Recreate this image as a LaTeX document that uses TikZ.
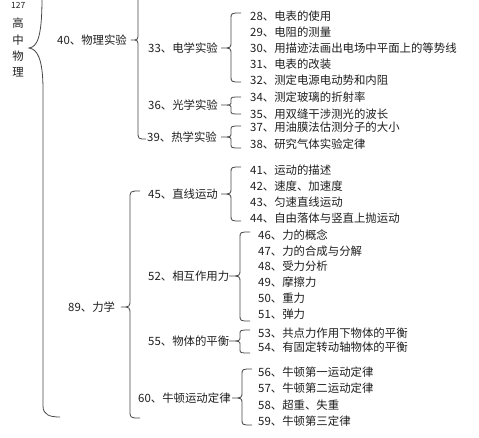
\documentclass[tikz,border=0pt]{standalone}
\usepackage{fontspec}
\setmainfont{Noto Sans CJK SC}
\newcommand\brc[8]{% xline, ytop, ycusp, ybot, xcusp, xtopend, xbotend, r
\draw[brace] (#6,#2) .. controls (#1,#2) .. (#1,{#2+#8}) -- (#1,{#3-#8}) .. controls (#1,#3) .. (#5,#3) .. controls (#1,#3) .. (#1,{#3+#8}) -- (#1,{#4-#8}) .. controls (#1,#4) .. (#7,#4);}
\begin{document}
\begin{tikzpicture}[x=1pt,y=-1pt,
  brace/.style={draw=black!72,line width=0.8pt},
  lbl/.style={anchor=west,inner sep=0pt,font=\fontsize{11.4}{12}\selectfont,text=black!88},
  vlbl/.style={inner sep=0pt,font=\fontsize{11.4}{12}\selectfont,text=black!88}]
\useasboundingbox (0,0) rectangle (479,437);
\fill[white] (0,0) rectangle (479,437);
% root
\node[lbl,font=\fontsize{8.5}{10}\selectfont\itshape] (n127) at (11,5) {127};
\node[vlbl] (g1) at (18,23) {高};
\node[vlbl] (g2) at (18,40) {中};
\node[vlbl] (g3) at (18,56) {物};
\node[vlbl] (g4) at (18,72) {理};
\draw[brace] (42,-2) .. controls (42,38) and (37,47) .. (29,48) .. controls (37,49) and (43,58) .. (43,90) -- (43,406) .. controls (43,415) and (50,417) .. (60,417);
% experiments
\node[lbl] (e40) at (57,40) {40、物理实验};
\draw[brace] (138,-5) -- (138,33) .. controls (138,40) .. (131,40) .. controls (138,40) .. (138,47) -- (138,131) .. controls (138,139) .. (146,139);
\node[lbl] (e33) at (148,48) {33、电学实验};
\node[lbl] (e36) at (148,105) {36、光学实验};
\node[lbl] (e39) at (147,137) {39、热学实验};
\brc{231}{13}{48}{82}{221}{241}{241}{6}
\brc{231}{97}{105}{114}{221}{241}{241}{3}
\brc{231}{126}{137}{148}{221}{241}{241}{4}
\node[lbl] (i28) at (250,16) {28、电表的使用};
\node[lbl] (i29) at (250,32) {29、电阻的测量};
\node[lbl] (i30) at (250,48) {30、用描迹法画出电场中平面上的等势线};
\node[lbl] (i31) at (250,64) {31、电表的改装};
\node[lbl] (i32) at (250,80) {32、测定电源电动势和内阻};
\node[lbl] (i34) at (250,97) {34、测定玻璃的折射率};
\node[lbl] (i35) at (250,114) {35、用双缝干涉测光的波长};
\node[lbl] (i37) at (250,127) {37、用油膜法估测分子的大小};
\node[lbl] (i38) at (250,144) {38、研究气体实验定律};
% mechanics
\node[lbl] (m89) at (68,307) {89、力学};
\brc{130}{191}{307}{418}{121}{140}{140}{8}
\node[lbl] (m45) at (148,194) {45、直线运动};
\node[lbl] (m52) at (148,276) {52、相互作用力};
\node[lbl] (m55) at (148,341) {55、物体的平衡};
\node[lbl] (m60) at (138,398) {60、牛顿运动定律};
\brc{231}{167}{194}{221}{221}{241}{241}{6}
\brc{240}{232}{276}{321}{229}{250}{250}{6}
\brc{240}{330}{341}{353}{229}{250}{250}{4}
\brc{242}{369}{398}{425}{232}{252}{252}{6}
\node[lbl] (i41) at (250,170) {41、运动的描述};
\node[lbl] (i42) at (250,186) {42、速度、加速度};
\node[lbl] (i43) at (250,202) {43、匀速直线运动};
\node[lbl] (i44) at (250,218) {44、自由落体与竖直上抛运动};
\node[lbl] (i46) at (258,235) {46、力的概念};
\node[lbl] (i47) at (258,251) {47、力的合成与分解};
\node[lbl] (i48) at (258,266) {48、受力分析};
\node[lbl] (i49) at (258,282) {49、摩擦力};
\node[lbl] (i50) at (258,298) {50、重力};
\node[lbl] (i51) at (258,314) {51、弹力};
\node[lbl] (i53) at (258,333) {53、共点力作用下物体的平衡};
\node[lbl] (i54) at (258,347) {54、有固定转动轴物体的平衡};
\node[lbl] (i56) at (258,372) {56、牛顿第一运动定律};
\node[lbl] (i57) at (258,388) {57、牛顿第二运动定律};
\node[lbl] (i58) at (258,405) {58、超重、失重};
\node[lbl] (i59) at (258,421) {59、牛顿第三定律};
\end{tikzpicture}
\end{document}
